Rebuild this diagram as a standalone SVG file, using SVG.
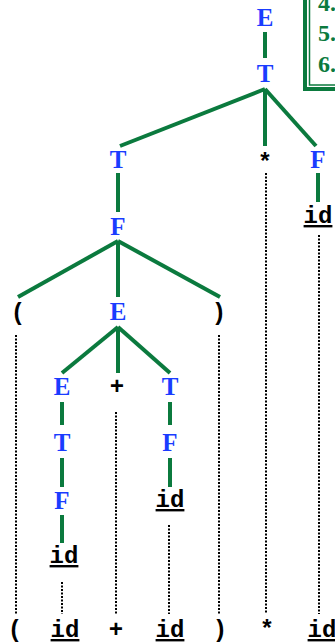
<svg xmlns="http://www.w3.org/2000/svg" width="335" height="644" viewBox="0 0 335 644">
  <style>
    .nt { font-family: "Liberation Serif", "Times New Roman", serif; font-weight: bold; font-size: 25px; fill: #1a3cff; text-anchor: middle; }
    .tk { font-family: "Liberation Mono", "Courier New", monospace; font-weight: bold; font-size: 24px; fill: #000; text-anchor: middle; }
    .u { text-decoration: underline; }
    .edge { stroke: #0b7a3e; stroke-width: 4; fill: none; stroke-linecap: butt; }
    .yield { stroke: #000; stroke-width: 2; stroke-dasharray: 2 1.5; fill: none; }
    .rule { font-family: "Liberation Serif", "Times New Roman", serif; font-weight: bold; font-size: 24px; fill: #0b7a3e; }
  </style>

  <!-- production list box, partially visible at the top right -->
  <g id="rules">
    <rect x="305" y="-20" width="60" height="109" fill="#fff" stroke="#0b7a3e" stroke-width="4"/>
    <rect x="309.5" y="-20" width="60" height="105" fill="none" stroke="#0b7a3e" stroke-width="1.5"/>
    <text class="rule" x="318" y="11">4.</text>
    <text class="rule" x="318" y="41">5.</text>
    <text class="rule" x="318" y="72">6.</text>
  </g>

  <!-- tree edges and yield lines -->
  <g id="connectors">
    <line class="edge" x1="265" y1="32" x2="265" y2="58"/>
    <line class="edge" x1="265" y1="89" x2="120" y2="146"/>
    <line class="edge" x1="265" y1="89" x2="265" y2="146"/>
    <line class="edge" x1="265" y1="89" x2="316" y2="146"/>
    <line class="edge" x1="118" y1="173" x2="118" y2="212"/>
    <line class="edge" x1="318" y1="173" x2="318" y2="202"/>
    <line class="edge" x1="118" y1="241" x2="18" y2="297"/>
    <line class="edge" x1="118" y1="241" x2="118" y2="297"/>
    <line class="edge" x1="118" y1="241" x2="220" y2="297"/>
    <line class="edge" x1="118" y1="327" x2="62" y2="373"/>
    <line class="edge" x1="118" y1="327" x2="118" y2="373"/>
    <line class="edge" x1="118" y1="327" x2="170" y2="373"/>
    <line class="edge" x1="62" y1="402" x2="62" y2="425"/>
    <line class="edge" x1="170" y1="402" x2="170" y2="425"/>
    <line class="edge" x1="62" y1="458" x2="62" y2="487"/>
    <line class="edge" x1="170" y1="458" x2="170" y2="487"/>
    <line class="edge" x1="62" y1="515" x2="62" y2="543"/>

    <line class="yield" x1="16" y1="335" x2="16" y2="614"/>
    <line class="yield" x1="62" y1="582" x2="62" y2="614"/>
    <line class="yield" x1="116" y1="412" x2="116" y2="614"/>
    <line class="yield" x1="169" y1="525" x2="169" y2="614"/>
    <line class="yield" x1="219" y1="335" x2="219" y2="614"/>
    <line class="yield" x1="266" y1="173" x2="266" y2="614"/>
    <line class="yield" x1="319" y1="235" x2="319" y2="614"/>
  </g>

  <!-- parse tree nodes -->
  <g id="n-E0"><text class="nt" x="265" y="26">E</text></g>
  <g id="n-T0"><text class="nt" x="265" y="82">T</text></g>
  <g id="n-T1"><text class="nt" x="118" y="168">T</text></g>
  <g id="n-star"><text class="tk" x="265" y="170">*</text></g>
  <g id="n-F0"><text class="nt" x="318" y="168">F</text></g>
  <g id="n-id0"><text class="tk u" x="318" y="223">id</text></g>
  <g id="n-F1"><text class="nt" x="118" y="235">F</text></g>
  <g id="n-lpar"><text class="tk" x="18" y="320">(</text></g>
  <g id="n-E1"><text class="nt" x="118" y="320">E</text></g>
  <g id="n-rpar"><text class="tk" x="219" y="320">)</text></g>
  <g id="n-E2"><text class="nt" x="62" y="395">E</text></g>
  <g id="n-plus"><text class="tk" x="117" y="394">+</text></g>
  <g id="n-T2"><text class="nt" x="170" y="395">T</text></g>
  <g id="n-T3"><text class="nt" x="62" y="451">T</text></g>
  <g id="n-F2"><text class="nt" x="170" y="451">F</text></g>
  <g id="n-F3"><text class="nt" x="62" y="509">F</text></g>
  <g id="n-id1"><text class="tk u" x="170" y="507">id</text></g>
  <g id="n-id2"><text class="tk u" x="64" y="563">id</text></g>

  <!-- input string -->
  <g id="input">
    <text class="tk" x="15" y="637">(</text>
    <text class="tk u" x="65" y="637">id</text>
    <text class="tk" x="116" y="637">+</text>
    <text class="tk u" x="170" y="637">id</text>
    <text class="tk" x="220" y="637">)</text>
    <text class="tk" x="267" y="637">*</text>
    <text class="tk u" x="322" y="637">id</text>
  </g>
</svg>
